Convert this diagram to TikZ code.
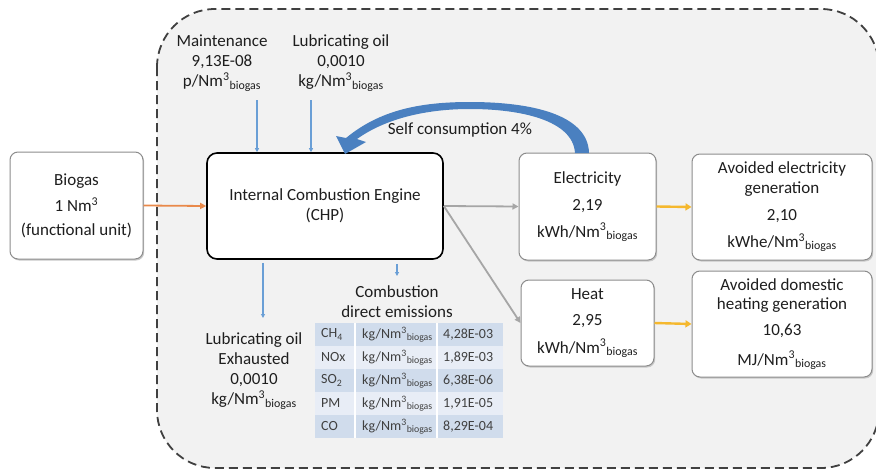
\documentclass[tikz,border=0pt]{standalone}
\usepackage{fontspec}
\setmainfont{Carlito}
\usetikzlibrary{arrows.meta}
\definecolor{txt}{HTML}{1E1E1E}
\definecolor{bgfill}{HTML}{F2F2F2}
\definecolor{boxline}{HTML}{8C8C8C}
\definecolor{bluel}{HTML}{6A9FD6}
\definecolor{bluearc}{HTML}{4A80C0}
\definecolor{orangel}{HTML}{E9894A}
\definecolor{yellowl}{HTML}{F5B82E}
\definecolor{grayl}{HTML}{A6A6A6}
\definecolor{rowdark}{HTML}{D0DCEC}
\definecolor{rowlight}{HTML}{E8EDF6}
\definecolor{tabtxt}{HTML}{404040}
\definecolor{dashcol}{HTML}{404040}
\definecolor{shadowc}{HTML}{C8C8C8}
\newcommand\nmbio{Nm\textsuperscript{3}\textsubscript{biogas}}
\begin{document}
\begin{tikzpicture}[x=1pt,y=-1pt,
  every node/.style={text=txt,font=\fontsize{17}{19.5}\selectfont,inner sep=0pt},
  rbox/.style={draw=boxline,fill=white,line width=1pt,rounded corners=8pt,align=center,
    preaction={fill=shadowc,transform canvas={shift={(1.2pt,-1.5pt)}}}},
  icebox/.style={draw=black,fill=white,line width=1.6pt,rounded corners=10pt,align=center},
  lbl/.style={align=center,font=\fontsize{17}{20}\selectfont},
  tab/.style={anchor=west,text=tabtxt,font=\fontsize{14}{16}\selectfont},
  orangearrow/.style={draw=orangel,line width=1.8pt,-{Triangle[length=6pt,width=6pt]}},
  grayarrow/.style={draw=grayl,line width=1.8pt,-{Triangle[length=6pt,width=6pt]}},
  yellowarrow/.style={draw=yellowl,line width=2.4pt,-{Triangle[length=6pt,width=7pt]}},
  bluearrow/.style={draw=bluel,line width=1.5pt,-{Triangle[length=4pt,width=4pt]}},
  boundary/.style={draw=dashcol,line width=1.8pt,dash pattern=on 9pt off 5pt,fill=bgfill,rounded corners=58pt}
]
\useasboundingbox (0,0) rectangle (876,471);
\begin{scope}
\clip (0,0) rectangle (876,471);
\fill[white] (0,0) rectangle (876,471);
\path[boundary] (157,9) rectangle (879,468);
\end{scope}

% boxes
\node[rbox,minimum width=133pt,minimum height=107pt] (bio) at (76.5,205.5)
  {Biogas\\[7pt]1 Nm\textsuperscript{3}\\[4pt](functional unit)};
\node[icebox,minimum width=236pt,minimum height=106pt] (ice) at (325,206)
  {Internal Combustion Engine\\[1pt](CHP)};
\node[rbox,minimum width=137pt,minimum height=107pt] (elec) at (587.5,206.5)
  {Electricity\\[7.5pt]2,19\\[7.5pt]kWh/\nmbio};
\node[rbox,minimum width=180pt,minimum height=106pt] (avel) at (782,207)
  {Avoided electricity\\generation\\[7.5pt]2,10\\[7.5pt]kWhe/\nmbio};
\node[rbox,minimum width=133pt,minimum height=86pt] (heat) at (587.5,323)
  {Heat\\[6.5pt]2,95\\[8.5pt]kWh/\nmbio};
\node[rbox,minimum width=180pt,minimum height=106pt] (avh) at (782,324)
  {Avoided domestic\\heating generation\\[6.5pt]10,63\\[10pt]MJ/\nmbio};

% labels
\node[lbl] (maint) at (222,63) {Maintenance\\9,13E-08\\p/\nmbio};
\node[lbl] (lube) at (341,63) {Lubricating oil\\0,0010\\kg/\nmbio};
\node[lbl] (exh) at (254,371) {Lubricating oil\\Exhausted\\0,0010\\kg/\nmbio};
\node[lbl] (comb) at (397,302) {Combustion\\direct emissions};
\node (self) at (460,130) {Self consumption 4\%};

% connectors
\draw[orangearrow] (bio.east) -- (ice.west);
\draw[grayarrow] (ice.east) -- (elec.west);
\draw[grayarrow] (ice.east) -- (heat.west);
\draw[yellowarrow] (elec.east) -- (avel.west);
\draw[yellowarrow] (heat.east) -- (avh.west);

\coordinate (m1) at (257,100);
\coordinate (l1) at (311,100);
\coordinate (b1) at (263,318);
\coordinate (c1) at (397,276);
\draw[bluearrow] (m1) -- (m1 |- ice.north);
\draw[bluearrow] (l1) -- (l1 |- ice.north);
\draw[bluearrow,shorten <=3pt] (b1 |- ice.south) -- (b1);
\draw[bluearrow,shorten <=4pt] (c1 |- ice.south) -- (c1);

% self consumption arrow
\fill[bluearc] (346,138) .. controls (380,110) and (420,102) .. (470,102)
  .. controls (530,102) and (588,114) .. (589,153) -- (575,153)
  .. controls (573,120) and (520,109) .. (470,109)
  .. controls (425,109) and (385,119) .. (357,139)
  -- (366,142) -- (345,154) -- (336,136) -- cycle;

% table
\foreach \r/\c in {0/rowdark,1/rowlight,2/rowdark,3/rowlight,4/rowdark}{
  \fill[\c] (315,323+23*\r) rectangle (503,346+23*\r);
}
\draw[white,line width=1.5pt] (355,323) -- (355,438) (437,323) -- (437,438);
\node[tab] (g1) at (321,334.5) {CH\textsubscript{4}};
\node[tab] (g2) at (321,357.5) {NOx};
\node[tab] (g3) at (321,380.5) {SO\textsubscript{2}};
\node[tab] (g4) at (321,403.5) {PM};
\node[tab] (g5) at (321,426.5) {CO};
\node[tab] (u1) at (362,334.5) {kg/\nmbio};
\node[tab] (u2) at (362,357.5) {kg/\nmbio};
\node[tab] (u3) at (362,380.5) {kg/\nmbio};
\node[tab] (u4) at (362,403.5) {kg/\nmbio};
\node[tab] (u5) at (362,426.5) {kg/\nmbio};
\node[tab] (v1) at (443,334.5) {4,28E-03};
\node[tab] (v2) at (443,357.5) {1,89E-03};
\node[tab] (v3) at (443,380.5) {6,38E-06};
\node[tab] (v4) at (443,403.5) {1,91E-05};
\node[tab] (v5) at (443,426.5) {8,29E-04};
\end{tikzpicture}
\end{document}
